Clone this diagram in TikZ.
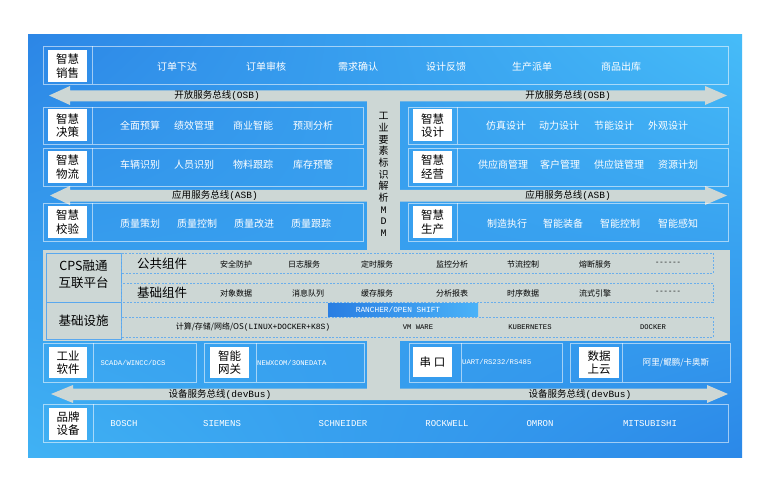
\documentclass[tikz,border=0pt]{standalone}
\usepackage{fontspec}
\usetikzlibrary{shadings}
\setmainfont{Noto Sans CJK SC}
\setmonofont{Liberation Mono}
\definecolor{bgA}{HTML}{2C86E6}
\definecolor{bgB}{HTML}{46BCF8}
\definecolor{bgC}{HTML}{40B2F4}
\definecolor{bgD}{HTML}{2B88E8}
\definecolor{busgrey}{HTML}{CDD7D5}
\definecolor{dashblue}{HTML}{6AAEEC}
\definecolor{cpsblue}{HTML}{5AA8EE}
\definecolor{barL}{HTML}{2A7EE2}
\definecolor{barR}{HTML}{4AB2F8}
\tikzset{
  ibox/.style={draw=white, draw opacity=0.55, line width=0.8pt},
  lbl/.style={fill=white, minimum width=39pt, minimum height=32pt, inner sep=0pt, align=center, text=black, font=\fontsize{11.5}{13.5}\selectfont},
  itm/.style={text=white, inner sep=0pt, font=\fontsize{10}{11}\selectfont},
  buslbl/.style={text=black, inner sep=0pt, font=\fontsize{9.5}{11}\selectfont},
  brand/.style={text=white, inner sep=0pt, font=\ttfamily\fontsize{9}{10}\selectfont},
  small/.style={text=white, inner sep=0pt, font=\ttfamily\fontsize{7.2}{8}\selectfont},
  pitm/.style={text=black, inner sep=0pt, font=\fontsize{8}{9}\selectfont},
  pmono/.style={text=black, inner sep=0pt, font=\ttfamily\fontsize{7.2}{8}\selectfont},
  pttl/.style={text=black, inner sep=0pt, align=center, font=\fontsize{12.5}{17}\selectfont},
  dbox/.style={draw=dashblue, line width=0.6pt, dash pattern=on 2pt off 1.5pt},
}
\begin{document}
\begin{tikzpicture}[x=1pt,y=-1pt]
\useasboundingbox (0,0) rectangle (765,489);
\fill[white] (0,0) rectangle (765,489);
% background
\shade[upper left=bgA, upper right=bgB, lower left=bgC, lower right=bgD] (28,35) rectangle (742,457);
% grey buses and column
\fill[busgrey] (49,95.5) -- (70,86) -- (70,90.5) -- (705,90.5) -- (705,86) -- (727,95.5) -- (705,105) -- (705,101.5) -- (70,101.5) -- (70,105) -- cycle;
\fill[busgrey] (50,195.5) -- (70,186) -- (70,190) -- (705,190) -- (705,186) -- (727,195.5) -- (705,205) -- (705,201.5) -- (70,201.5) -- (70,205) -- cycle;
\fill[busgrey] (51,394) -- (73,385) -- (73,388.5) -- (707,388.5) -- (707,385) -- (728,394) -- (707,403) -- (707,400) -- (73,400) -- (73,403) -- cycle;
\fill[busgrey] (367,100) rectangle (400,251);
\fill[busgrey] (367,340) rectangle (400,389);
\fill[busgrey] (43,250) rectangle (730,341);

% ---------- row 1 ----------
\draw[ibox] (43,46) rectangle (728,84); \draw[ibox] (92,46) -- (92,84);
\node[lbl] (xs) at (67.5,66) {智慧\\销售};
\foreach \x/\t [count=\i] in {177/订单下达,266/订单审核,358/需求确认,446/设计反馈,532/生产派单,621/商品出库}
  \node[itm] (xsi\i) at (\x,67) {\t};
\node[buslbl] (osbL) at (217,95.5) {开放服务总线{\ttfamily(OSB)}};
\node[buslbl] (osbR) at (568,95.5) {开放服务总线{\ttfamily(OSB)}};

% ---------- left panels ----------
\draw[ibox] (43,107) rectangle (363,144); \draw[ibox] (92,107) -- (92,144);
\node[lbl] (jc) at (67.5,125.5) {智慧\\决策};
\foreach \x/\t [count=\i] in {140/全面预算,194/绩效管理,253/商业智能,313/预测分析}
  \node[itm] (jci\i) at (\x,126) {\t};
\draw[ibox] (43,148) rectangle (363,186); \draw[ibox] (92,148) -- (92,186);
\node[lbl] (wl) at (67.5,167) {智慧\\物流};
\foreach \x/\t [count=\i] in {140/车辆识别,194/人员识别,253/物料跟踪,313/库存预警}
  \node[itm] (wli\i) at (\x,165) {\t};
\draw[ibox] (43,203) rectangle (363,241); \draw[ibox] (92,203) -- (92,241);
\node[lbl] (jy) at (67.5,222) {智慧\\校验};
\foreach \x/\t [count=\i] in {140/质量策划,197/质量控制,254/质量改进,311/质量跟踪}
  \node[itm] (jyi\i) at (\x,224) {\t};

% ---------- right panels ----------
\draw[ibox] (408,107) rectangle (728,144); \draw[ibox] (457,107) -- (457,144);
\node[lbl] (sj) at (432.5,125.5) {智慧\\设计};
\foreach \x/\t [count=\i] in {506/仿真设计,559/动力设计,614/节能设计,668/外观设计}
  \node[itm] (sji\i) at (\x,126) {\t};
\draw[ibox] (408,148) rectangle (728,186); \draw[ibox] (457,148) -- (457,186);
\node[lbl] (jj) at (432.5,167) {智慧\\经营};
\foreach \x/\t [count=\i] in {503/供应商管理,560/客户管理,619/供应链管理,678/资源计划}
  \node[itm] (jji\i) at (\x,165) {\t};
\draw[ibox] (408,203) rectangle (728,241); \draw[ibox] (457,203) -- (457,241);
\node[lbl] (sc) at (432.5,222) {智慧\\生产};
\foreach \x/\t [count=\i] in {507/制造执行,563/智能装备,620/智能控制,678/智能感知}
  \node[itm] (sci\i) at (\x,224) {\t};

\node[buslbl] (asbL) at (215,195.5) {应用服务总线{\ttfamily(ASB)}};
\node[buslbl] (asbR) at (568,195.5) {应用服务总线{\ttfamily(ASB)}};

% vertical column text
\node[text=black, inner sep=0pt, align=center, font=\fontsize{10}{11.7}\selectfont] (mdm) at (383.5,174.5)
  {工\\业\\要\\素\\标\\识\\解\\析\\{\ttfamily M}\\{\ttfamily D}\\{\ttfamily M}};

% ---------- platform ----------
\draw[draw=cpsblue, line width=0.9pt] (46,253) rectangle (121,302);
\draw[draw=cpsblue, line width=0.9pt] (46,302) rectangle (121,339);
\node[pttl] (cps) at (83.5,274) {CPS融通\\互联平台};
\node[pttl] (jcss) at (83.5,321) {基础设施};
\draw[dbox] (121,253) rectangle (713,273);
\draw[dbox] (121,283) rectangle (713,302);
\draw[dbox] (121,317) rectangle (713,337);
\node[pttl] (ggzj) at (162,264) {公共组件};
\node[pttl] (jczj) at (162,293) {基础组件};
\foreach \x/\t [count=\i] in {236/安全防护,304/日志服务,377/定时服务,452/监控分析,523/节流控制,595/熔断服务}
  \node[pitm] (gg\i) at (\x,264) {\t};
\node[pmono] (gg7) at (668,263) {------};
\foreach \x/\t [count=\i] in {236/对象数据,308/消息队列,377/缓存服务,452/分析报表,523/时序数据,595/流式引擎}
  \node[pitm] (jz\i) at (\x,293) {\t};
\node[pmono] (jz7) at (668,292) {------};
\shade[left color=barL, right color=barR] (328,303) rectangle (478,316);
\node[text=white, inner sep=0pt, font=\ttfamily\fontsize{7.8}{9}\selectfont] (rancher) at (398,309.5) {RANCHER/OPEN SHIFT};
\node[pitm] (js1) at (253,327) {计算/存储/网络/OS{\ttfamily (LINUX+DOCKER+K8S)}};
\node[pmono] (js2) at (418,327) {VM WARE};
\node[pmono] (js3) at (530,327) {KUBERNETES};
\node[pmono] (js4) at (653,327) {DOCKER};

% ---------- middle section ----------
\draw[ibox] (43,343) rectangle (196,382); \draw[ibox] (93,343) -- (93,382);
\node[lbl, minimum width=38pt, minimum height=31pt] (gyrj) at (68,362.5) {工业\\软件};
\node[small] (gyrjt) at (133,363) {SCADA/WINCC/DCS};
\draw[ibox] (204,343) rectangle (364,382); \draw[ibox] (256,343) -- (256,382);
\node[lbl, minimum width=39pt, minimum height=31pt] (znwg) at (229.5,362.5) {智能\\网关};
\node[small, anchor=west] (znwgt) at (257,363) {NEWXCOM/3ONEDATA};
\draw[ibox] (409,343) rectangle (562,382); \draw[ibox] (461,343) -- (461,382);
\node[lbl, minimum width=39pt, minimum height=30pt] (ck) at (432.5,362) {串\hspace{3pt}口};
\node[small, anchor=west] (ckt) at (462,362) {UART/RS232/RS485};
\draw[ibox] (570,343) rectangle (730,382); \draw[ibox] (622,343) -- (622,382);
\node[lbl, minimum width=40pt, minimum height=31pt] (sjsy) at (599,362.5) {数据\\上云};
\node[itm, font=\fontsize{8.5}{9}\selectfont] (sjsyt) at (676,363) {阿里/鲲鹏/卡奥斯};

\node[buslbl] (devL) at (220,394) {设备服务总线{\ttfamily(devBus)}};
\node[buslbl] (devR) at (580,394) {设备服务总线{\ttfamily(devBus)}};

% ---------- bottom row ----------
\draw[ibox] (43,404) rectangle (728,442); \draw[ibox] (93,404) -- (93,442);
\node[lbl, minimum width=38pt, minimum height=32pt] (ppsb) at (68,423.5) {品牌\\设备};
\foreach \x/\t [count=\i] in {124/BOSCH,222/SIEMENS,343/SCHNEIDER,447/ROCKWELL,540/OMRON,650/MITSUBISHI}
  \node[brand] (br\i) at (\x,424) {\t};
\end{tikzpicture}
\end{document}
